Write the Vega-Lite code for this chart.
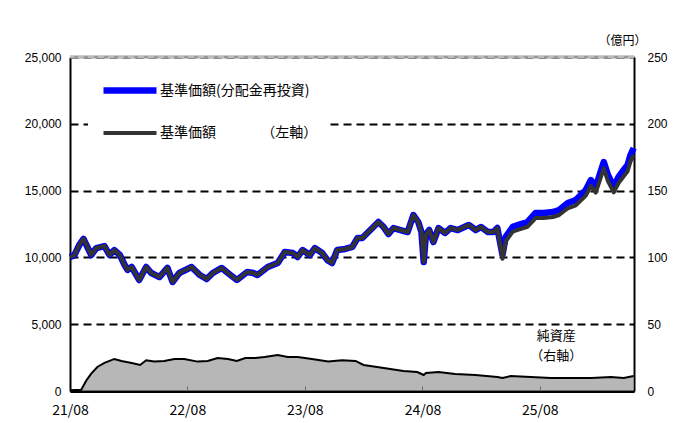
{
  "$schema": "https://vega.github.io/schema/vega-lite/v6.json",
  "width": 564,
  "height": 334,
  "autosize": {"type": "none"},
  "padding": {"left": 70, "top": 57, "right": 57, "bottom": 32},
  "background": "white",
  "config": {"view": {"stroke": null}, "font": "Liberation Sans"},
  "datasets": {
    "nav": [
      {"date": "2021-08-01", "nav": 0.5},
      {"date": "2021-09-05", "nav": 1},
      {"date": "2021-09-21", "nav": 8},
      {"date": "2021-10-06", "nav": 13},
      {"date": "2021-10-25", "nav": 18},
      {"date": "2021-11-16", "nav": 21},
      {"date": "2021-12-17", "nav": 24},
      {"date": "2022-01-08", "nav": 22.5},
      {"date": "2022-02-09", "nav": 21},
      {"date": "2022-03-07", "nav": 19.5},
      {"date": "2022-03-26", "nav": 23},
      {"date": "2022-04-20", "nav": 22},
      {"date": "2022-05-21", "nav": 22.5},
      {"date": "2022-06-22", "nav": 24},
      {"date": "2022-07-22", "nav": 24},
      {"date": "2022-09-02", "nav": 22},
      {"date": "2022-10-03", "nav": 22.5},
      {"date": "2022-11-03", "nav": 24.7},
      {"date": "2022-12-05", "nav": 24},
      {"date": "2023-01-02", "nav": 22.5},
      {"date": "2023-01-28", "nav": 24.7},
      {"date": "2023-02-28", "nav": 24.7},
      {"date": "2023-03-29", "nav": 25.5},
      {"date": "2023-05-09", "nav": 27},
      {"date": "2023-06-09", "nav": 25.5},
      {"date": "2023-07-10", "nav": 25.5},
      {"date": "2023-08-23", "nav": 24},
      {"date": "2023-10-13", "nav": 22},
      {"date": "2023-11-25", "nav": 23},
      {"date": "2024-01-06", "nav": 22.5},
      {"date": "2024-01-31", "nav": 19.5},
      {"date": "2024-03-13", "nav": 18},
      {"date": "2024-04-23", "nav": 16.5},
      {"date": "2024-06-03", "nav": 15},
      {"date": "2024-07-16", "nav": 14.2},
      {"date": "2024-08-05", "nav": 12},
      {"date": "2024-08-12", "nav": 13.5},
      {"date": "2024-09-20", "nav": 14.2},
      {"date": "2024-11-11", "nav": 12.7},
      {"date": "2025-01-13", "nav": 12},
      {"date": "2025-03-22", "nav": 10.5},
      {"date": "2025-04-07", "nav": 9.7},
      {"date": "2025-05-02", "nav": 11.2},
      {"date": "2025-07-04", "nav": 10.5},
      {"date": "2025-09-05", "nav": 9.7},
      {"date": "2025-11-07", "nav": 9.7},
      {"date": "2026-01-09", "nav": 9.7},
      {"date": "2026-03-10", "nav": 10.5},
      {"date": "2026-04-19", "nav": 9.7},
      {"date": "2026-05-20", "nav": 11.2}
    ],
    "price": [
      {"date": "2021-08-01", "series": "基準価額(分配金再投資)", "value": 10030},
      {"date": "2021-08-14", "series": "基準価額(分配金再投資)", "value": 10150},
      {"date": "2021-08-30", "series": "基準価額(分配金再投資)", "value": 10930},
      {"date": "2021-09-12", "series": "基準価額(分配金再投資)", "value": 11380},
      {"date": "2021-09-24", "series": "基準価額(分配金再投資)", "value": 10780},
      {"date": "2021-10-06", "series": "基準価額(分配金再投資)", "value": 10180},
      {"date": "2021-10-22", "series": "基準価額(分配金再投資)", "value": 10700},
      {"date": "2021-11-16", "series": "基準価額(分配金再投資)", "value": 10850},
      {"date": "2021-12-02", "series": "基準価額(分配金再投資)", "value": 10180},
      {"date": "2021-12-17", "series": "基準価額(分配金再投資)", "value": 10550},
      {"date": "2022-01-03", "series": "基準価額(分配金再投資)", "value": 10180},
      {"date": "2022-01-18", "series": "基準価額(分配金再投資)", "value": 9430},
      {"date": "2022-01-27", "series": "基準価額(分配金再投資)", "value": 9060},
      {"date": "2022-02-09", "series": "基準価額(分配金再投資)", "value": 9280},
      {"date": "2022-03-04", "series": "基準価額(分配金再投資)", "value": 8310},
      {"date": "2022-03-26", "series": "基準価額(分配金再投資)", "value": 9280},
      {"date": "2022-04-11", "series": "基準価額(分配金再投資)", "value": 8830},
      {"date": "2022-05-06", "series": "基準価額(分配金再投資)", "value": 8530},
      {"date": "2022-05-31", "series": "基準価額(分配金再投資)", "value": 9210},
      {"date": "2022-06-16", "series": "基準価額(分配金再投資)", "value": 8160},
      {"date": "2022-07-07", "series": "基準価額(分配金再投資)", "value": 8830},
      {"date": "2022-08-14", "series": "基準価額(分配金再投資)", "value": 9280},
      {"date": "2022-09-09", "series": "基準価額(分配金再投資)", "value": 8680},
      {"date": "2022-09-30", "series": "基準価額(分配金再投資)", "value": 8380},
      {"date": "2022-10-19", "series": "基準価額(分配金再投資)", "value": 8830},
      {"date": "2022-11-16", "series": "基準価額(分配金再投資)", "value": 9210},
      {"date": "2022-12-05", "series": "基準価額(分配金再投資)", "value": 8830},
      {"date": "2023-01-02", "series": "基準価額(分配金再投資)", "value": 8310},
      {"date": "2023-02-03", "series": "基準価額(分配金再投資)", "value": 8910},
      {"date": "2023-02-22", "series": "基準価額(分配金再投資)", "value": 8830},
      {"date": "2023-03-07", "series": "基準価額(分配金再投資)", "value": 8680},
      {"date": "2023-04-08", "series": "基準価額(分配金再投資)", "value": 9280},
      {"date": "2023-05-09", "series": "基準価額(分配金再投資)", "value": 9580},
      {"date": "2023-05-31", "series": "基準価額(分配金再投資)", "value": 10400},
      {"date": "2023-06-25", "series": "基準価額(分配金再投資)", "value": 10330},
      {"date": "2023-07-10", "series": "基準価額(分配金再投資)", "value": 10030},
      {"date": "2023-07-25", "series": "基準価額(分配金再投資)", "value": 10550},
      {"date": "2023-08-17", "series": "基準価額(分配金再投資)", "value": 10180},
      {"date": "2023-09-02", "series": "基準価額(分配金再投資)", "value": 10700},
      {"date": "2023-09-24", "series": "基準価額(分配金再投資)", "value": 10330},
      {"date": "2023-10-10", "series": "基準価額(分配金再投資)", "value": 9810},
      {"date": "2023-10-25", "series": "基準価額(分配金再投資)", "value": 9580},
      {"date": "2023-11-10", "series": "基準価額(分配金再投資)", "value": 10550},
      {"date": "2023-12-05", "series": "基準価額(分配金再投資)", "value": 10630},
      {"date": "2023-12-27", "series": "基準価額(分配金再投資)", "value": 10780},
      {"date": "2024-01-12", "series": "基準価額(分配金再投資)", "value": 11450},
      {"date": "2024-01-27", "series": "基準価額(分配金再投資)", "value": 11450},
      {"date": "2024-02-21", "series": "基準価額(分配金再投資)", "value": 12050},
      {"date": "2024-03-17", "series": "基準価額(分配金再投資)", "value": 12650},
      {"date": "2024-04-02", "series": "基準価額(分配金再投資)", "value": 12280},
      {"date": "2024-04-17", "series": "基準価額(分配金再投資)", "value": 11750},
      {"date": "2024-05-03", "series": "基準価額(分配金再投資)", "value": 12200},
      {"date": "2024-05-25", "series": "基準価額(分配金再投資)", "value": 12050},
      {"date": "2024-06-16", "series": "基準価額(分配金再投資)", "value": 11900},
      {"date": "2024-07-04", "series": "基準価額(分配金再投資)", "value": 13170},
      {"date": "2024-07-19", "series": "基準価額(分配金再投資)", "value": 12650},
      {"date": "2024-07-29", "series": "基準価額(分配金再投資)", "value": 11900},
      {"date": "2024-08-05", "series": "基準価額(分配金再投資)", "value": 9660},
      {"date": "2024-08-12", "series": "基準価額(分配金再投資)", "value": 11700},
      {"date": "2024-08-22", "series": "基準価額(分配金再投資)", "value": 12050},
      {"date": "2024-09-04", "series": "基準価額(分配金再投資)", "value": 11150},
      {"date": "2024-09-20", "series": "基準価額(分配金再投資)", "value": 12200},
      {"date": "2024-10-10", "series": "基準価額(分配金再投資)", "value": 11830},
      {"date": "2024-10-28", "series": "基準価額(分配金再投資)", "value": 12200},
      {"date": "2024-11-19", "series": "基準価額(分配金再投資)", "value": 12050},
      {"date": "2024-12-23", "series": "基準価額(分配金再投資)", "value": 12430},
      {"date": "2025-01-14", "series": "基準価額(分配金再投資)", "value": 12050},
      {"date": "2025-01-30", "series": "基準価額(分配金再投資)", "value": 12280},
      {"date": "2025-02-21", "series": "基準価額(分配金再投資)", "value": 11900},
      {"date": "2025-03-10", "series": "基準価額(分配金再投資)", "value": 11900},
      {"date": "2025-03-22", "series": "基準価額(分配金再投資)", "value": 12200},
      {"date": "2025-04-07", "series": "基準価額(分配金再投資)", "value": 10180},
      {"date": "2025-04-17", "series": "基準価額(分配金再投資)", "value": 11530},
      {"date": "2025-05-09", "series": "基準価額(分配金再投資)", "value": 12280},
      {"date": "2025-05-27", "series": "基準価額(分配金再投資)", "value": 12430},
      {"date": "2025-06-24", "series": "基準価額(分配金再投資)", "value": 12650},
      {"date": "2025-07-19", "series": "基準価額(分配金再投資)", "value": 13320},
      {"date": "2025-08-13", "series": "基準価額(分配金再投資)", "value": 13320},
      {"date": "2025-09-11", "series": "基準価額(分配金再投資)", "value": 13400},
      {"date": "2025-09-30", "series": "基準価額(分配金再投資)", "value": 13550},
      {"date": "2025-10-27", "series": "基準価額(分配金再投資)", "value": 14070},
      {"date": "2025-11-21", "series": "基準価額(分配金再投資)", "value": 14300},
      {"date": "2025-12-22", "series": "基準価額(分配金再投資)", "value": 15050},
      {"date": "2026-01-07", "series": "基準価額(分配金再投資)", "value": 15790},
      {"date": "2026-01-22", "series": "基準価額(分配金再投資)", "value": 15270},
      {"date": "2026-02-16", "series": "基準価額(分配金再投資)", "value": 17140},
      {"date": "2026-03-01", "series": "基準価額(分配金再投資)", "value": 16170},
      {"date": "2026-03-19", "series": "基準価額(分配金再投資)", "value": 15300},
      {"date": "2026-04-03", "series": "基準価額(分配金再投資)", "value": 16020},
      {"date": "2026-04-19", "series": "基準価額(分配金再投資)", "value": 16540},
      {"date": "2026-05-01", "series": "基準価額(分配金再投資)", "value": 16920},
      {"date": "2026-05-10", "series": "基準価額(分配金再投資)", "value": 17660},
      {"date": "2026-05-20", "series": "基準価額(分配金再投資)", "value": 18190},
      {"date": "2021-08-01", "series": "基準価額　　　 （左軸）", "value": 10030},
      {"date": "2021-08-14", "series": "基準価額　　　 （左軸）", "value": 10150},
      {"date": "2021-08-30", "series": "基準価額　　　 （左軸）", "value": 10930},
      {"date": "2021-09-12", "series": "基準価額　　　 （左軸）", "value": 11380},
      {"date": "2021-09-24", "series": "基準価額　　　 （左軸）", "value": 10780},
      {"date": "2021-10-06", "series": "基準価額　　　 （左軸）", "value": 10180},
      {"date": "2021-10-22", "series": "基準価額　　　 （左軸）", "value": 10700},
      {"date": "2021-11-16", "series": "基準価額　　　 （左軸）", "value": 10850},
      {"date": "2021-12-02", "series": "基準価額　　　 （左軸）", "value": 10180},
      {"date": "2021-12-17", "series": "基準価額　　　 （左軸）", "value": 10550},
      {"date": "2022-01-03", "series": "基準価額　　　 （左軸）", "value": 10180},
      {"date": "2022-01-18", "series": "基準価額　　　 （左軸）", "value": 9430},
      {"date": "2022-01-27", "series": "基準価額　　　 （左軸）", "value": 9060},
      {"date": "2022-02-09", "series": "基準価額　　　 （左軸）", "value": 9280},
      {"date": "2022-03-04", "series": "基準価額　　　 （左軸）", "value": 8310},
      {"date": "2022-03-26", "series": "基準価額　　　 （左軸）", "value": 9280},
      {"date": "2022-04-11", "series": "基準価額　　　 （左軸）", "value": 8830},
      {"date": "2022-05-06", "series": "基準価額　　　 （左軸）", "value": 8530},
      {"date": "2022-05-31", "series": "基準価額　　　 （左軸）", "value": 9210},
      {"date": "2022-06-16", "series": "基準価額　　　 （左軸）", "value": 8160},
      {"date": "2022-07-07", "series": "基準価額　　　 （左軸）", "value": 8830},
      {"date": "2022-08-14", "series": "基準価額　　　 （左軸）", "value": 9280},
      {"date": "2022-09-09", "series": "基準価額　　　 （左軸）", "value": 8680},
      {"date": "2022-09-30", "series": "基準価額　　　 （左軸）", "value": 8380},
      {"date": "2022-10-19", "series": "基準価額　　　 （左軸）", "value": 8830},
      {"date": "2022-11-16", "series": "基準価額　　　 （左軸）", "value": 9210},
      {"date": "2022-12-05", "series": "基準価額　　　 （左軸）", "value": 8830},
      {"date": "2023-01-02", "series": "基準価額　　　 （左軸）", "value": 8310},
      {"date": "2023-02-03", "series": "基準価額　　　 （左軸）", "value": 8910},
      {"date": "2023-02-22", "series": "基準価額　　　 （左軸）", "value": 8830},
      {"date": "2023-03-07", "series": "基準価額　　　 （左軸）", "value": 8680},
      {"date": "2023-04-08", "series": "基準価額　　　 （左軸）", "value": 9280},
      {"date": "2023-05-09", "series": "基準価額　　　 （左軸）", "value": 9580},
      {"date": "2023-05-31", "series": "基準価額　　　 （左軸）", "value": 10400},
      {"date": "2023-06-25", "series": "基準価額　　　 （左軸）", "value": 10330},
      {"date": "2023-07-10", "series": "基準価額　　　 （左軸）", "value": 10030},
      {"date": "2023-07-25", "series": "基準価額　　　 （左軸）", "value": 10550},
      {"date": "2023-08-17", "series": "基準価額　　　 （左軸）", "value": 10180},
      {"date": "2023-09-02", "series": "基準価額　　　 （左軸）", "value": 10700},
      {"date": "2023-09-24", "series": "基準価額　　　 （左軸）", "value": 10330},
      {"date": "2023-10-10", "series": "基準価額　　　 （左軸）", "value": 9810},
      {"date": "2023-10-25", "series": "基準価額　　　 （左軸）", "value": 9580},
      {"date": "2023-11-10", "series": "基準価額　　　 （左軸）", "value": 10550},
      {"date": "2023-12-05", "series": "基準価額　　　 （左軸）", "value": 10630},
      {"date": "2023-12-27", "series": "基準価額　　　 （左軸）", "value": 10780},
      {"date": "2024-01-12", "series": "基準価額　　　 （左軸）", "value": 11450},
      {"date": "2024-01-27", "series": "基準価額　　　 （左軸）", "value": 11450},
      {"date": "2024-02-21", "series": "基準価額　　　 （左軸）", "value": 12050},
      {"date": "2024-03-17", "series": "基準価額　　　 （左軸）", "value": 12650},
      {"date": "2024-04-02", "series": "基準価額　　　 （左軸）", "value": 12280},
      {"date": "2024-04-17", "series": "基準価額　　　 （左軸）", "value": 11750},
      {"date": "2024-05-03", "series": "基準価額　　　 （左軸）", "value": 12200},
      {"date": "2024-05-25", "series": "基準価額　　　 （左軸）", "value": 12050},
      {"date": "2024-06-16", "series": "基準価額　　　 （左軸）", "value": 11900},
      {"date": "2024-07-04", "series": "基準価額　　　 （左軸）", "value": 13170},
      {"date": "2024-07-19", "series": "基準価額　　　 （左軸）", "value": 12650},
      {"date": "2024-07-29", "series": "基準価額　　　 （左軸）", "value": 11900},
      {"date": "2024-08-05", "series": "基準価額　　　 （左軸）", "value": 9660},
      {"date": "2024-08-12", "series": "基準価額　　　 （左軸）", "value": 11700},
      {"date": "2024-08-22", "series": "基準価額　　　 （左軸）", "value": 12050},
      {"date": "2024-09-04", "series": "基準価額　　　 （左軸）", "value": 11150},
      {"date": "2024-09-20", "series": "基準価額　　　 （左軸）", "value": 12200},
      {"date": "2024-10-10", "series": "基準価額　　　 （左軸）", "value": 11830},
      {"date": "2024-10-28", "series": "基準価額　　　 （左軸）", "value": 12200},
      {"date": "2024-11-19", "series": "基準価額　　　 （左軸）", "value": 12050},
      {"date": "2024-12-23", "series": "基準価額　　　 （左軸）", "value": 12430},
      {"date": "2025-01-14", "series": "基準価額　　　 （左軸）", "value": 12050},
      {"date": "2025-01-30", "series": "基準価額　　　 （左軸）", "value": 12280},
      {"date": "2025-02-21", "series": "基準価額　　　 （左軸）", "value": 11900},
      {"date": "2025-03-10", "series": "基準価額　　　 （左軸）", "value": 11900},
      {"date": "2025-03-22", "series": "基準価額　　　 （左軸）", "value": 12200},
      {"date": "2025-04-07", "series": "基準価額　　　 （左軸）", "value": 9895},
      {"date": "2025-04-17", "series": "基準価額　　　 （左軸）", "value": 11207},
      {"date": "2025-05-09", "series": "基準価額　　　 （左軸）", "value": 11936},
      {"date": "2025-05-27", "series": "基準価額　　　 （左軸）", "value": 12082},
      {"date": "2025-06-24", "series": "基準価額　　　 （左軸）", "value": 12296},
      {"date": "2025-07-19", "series": "基準価額　　　 （左軸）", "value": 12947},
      {"date": "2025-08-13", "series": "基準価額　　　 （左軸）", "value": 12947},
      {"date": "2025-09-11", "series": "基準価額　　　 （左軸）", "value": 13025},
      {"date": "2025-09-30", "series": "基準価額　　　 （左軸）", "value": 13171},
      {"date": "2025-10-27", "series": "基準価額　　　 （左軸）", "value": 13676},
      {"date": "2025-11-21", "series": "基準価額　　　 （左軸）", "value": 13900},
      {"date": "2025-12-22", "series": "基準価額　　　 （左軸）", "value": 14629},
      {"date": "2026-01-07", "series": "基準価額　　　 （左軸）", "value": 15348},
      {"date": "2026-01-22", "series": "基準価額　　　 （左軸）", "value": 14842},
      {"date": "2026-02-16", "series": "基準価額　　　 （左軸）", "value": 16660},
      {"date": "2026-03-01", "series": "基準価額　　　 （左軸）", "value": 15717},
      {"date": "2026-03-19", "series": "基準価額　　　 （左軸）", "value": 14872},
      {"date": "2026-04-03", "series": "基準価額　　　 （左軸）", "value": 15571},
      {"date": "2026-04-19", "series": "基準価額　　　 （左軸）", "value": 16077},
      {"date": "2026-05-01", "series": "基準価額　　　 （左軸）", "value": 16446},
      {"date": "2026-05-10", "series": "基準価額　　　 （左軸）", "value": 17166},
      {"date": "2026-05-20", "series": "基準価額　　　 （左軸）", "value": 17681}
    ]
  },
  "layer": [
    {
      "layer": [
        {
          "data": {"name": "nav"},
          "mark": {"type": "area", "color": "#999999", "line": {"color": "black", "strokeWidth": 2}},
          "encoding": {
            "x": {
              "field": "date", "type": "temporal",
              "scale": {"type": "utc", "nice": false, "domain": [{"year": 2021, "month": 8, "date": 1, "utc": true}, {"year": 2026, "month": 5, "date": 21, "utc": true}]},
              "axis": {
                "values": [
                  {"year": 2021, "month": 8, "date": 1, "utc": true},
                  {"year": 2022, "month": 8, "date": 1, "utc": true},
                  {"year": 2023, "month": 8, "date": 1, "utc": true},
                  {"year": 2024, "month": 8, "date": 1, "utc": true},
                  {"year": 2025, "month": 8, "date": 1, "utc": true}
                ],
                "format": "%y/%m", "title": null, "grid": false,
                "labelFont": "Noto Sans CJK JP", "labelFontSize": 14, "labelColor": "black",
                "tickSize": -5, "tickColor": "black", "tickWidth": 1,
                "domainColor": "black", "domainWidth": 3, "labelPadding": 17, "labelFlush": false
              }
            },
            "y": {
              "field": "nav", "type": "quantitative",
              "scale": {"domain": [0, 250], "nice": false},
              "axis": {
                "orient": "right", "values": [0, 50, 100, 150, 200, 250], "grid": false,
                "ticks": false, "labelPadding": 13, "labelFontSize": 12, "labelColor": "black",
                "labelFont": "Liberation Sans",
                "domainColor": "black", "domainWidth": 2,
                "title": "（億円）", "titleAngle": 0, "titleX": -12, "titleY": -17,
                "titleAlign": "center", "titleBaseline": "middle",
                "titleFont": "Noto Sans CJK JP", "titleFontSize": 12, "titleFontWeight": "normal", "titleColor": "black"
              }
            }
          }
        },
        {
          "data": {"values": [{}]},
          "mark": {"type": "text", "baseline": "top", "align": "center", "lineHeight": 20, "font": "Noto Sans CJK JP", "fontSize": 13, "color": "black"},
          "encoding": {
            "x": {"datum": {"year": 2025, "month": 9, "date": 21, "utc": true}, "type": "temporal"},
            "y": {"datum": 45.5, "type": "quantitative"},
            "text": {"value": ["純資産", "（右軸）"]}
          }
        }
      ]
    },
    {
      "layer": [
        {
          "data": {"name": "price"},
          "mark": {"type": "line", "strokeJoin": "round"},
          "encoding": {
            "x": {"field": "date", "type": "temporal"},
            "y": {
              "field": "value", "type": "quantitative",
              "scale": {"domain": [0, 25000], "nice": false},
              "axis": {
                "orient": "left", "values": [0, 5000, 10000, 15000, 20000, 25000], "format": ",d",
                "ticks": false, "labelPadding": 9, "labelFontSize": 12, "labelColor": "black",
                "labelFont": "Liberation Sans",
                "domainColor": "black", "domainWidth": 2,
                "grid": true, "gridColor": "black", "gridDash": [8, 5], "gridWidth": 2, "title": null
              }
            },
            "color": {
              "field": "series", "type": "nominal",
              "scale": {"domain": ["基準価額(分配金再投資)", "基準価額　　　 （左軸）"], "range": ["#0000ff", "#333333"]},
              "legend": {
                "orient": "none", "legendX": 18, "legendY": 8, "title": null,
                "fillColor": "white", "padding": 12,
                "symbolType": "M-1,0H4.3", "symbolSize": 400,
                "labelFont": "Noto Sans CJK JP", "labelFontSize": 14, "labelColor": "black",
                "rowPadding": 17, "labelOffset": 33
              }
            },
            "strokeWidth": {
              "field": "series", "type": "nominal",
              "scale": {"domain": ["基準価額(分配金再投資)", "基準価額　　　 （左軸）"], "range": [6.5, 4]},
              "legend": null
            }
          }
        },
        {
          "data": {"values": [{}]},
          "mark": {"type": "rule", "color": "#999999", "strokeWidth": 3},
          "encoding": {"y": {"datum": 25000, "type": "quantitative"}}
        },
        {
          "data": {"values": [{}]},
          "mark": {"type": "rule", "color": "#dddddd", "strokeWidth": 1, "strokeDash": [6, 4]},
          "encoding": {"y": {"datum": 25000, "type": "quantitative"}}
        }
      ]
    }
  ],
  "resolve": {"scale": {"y": "independent"}}
}
